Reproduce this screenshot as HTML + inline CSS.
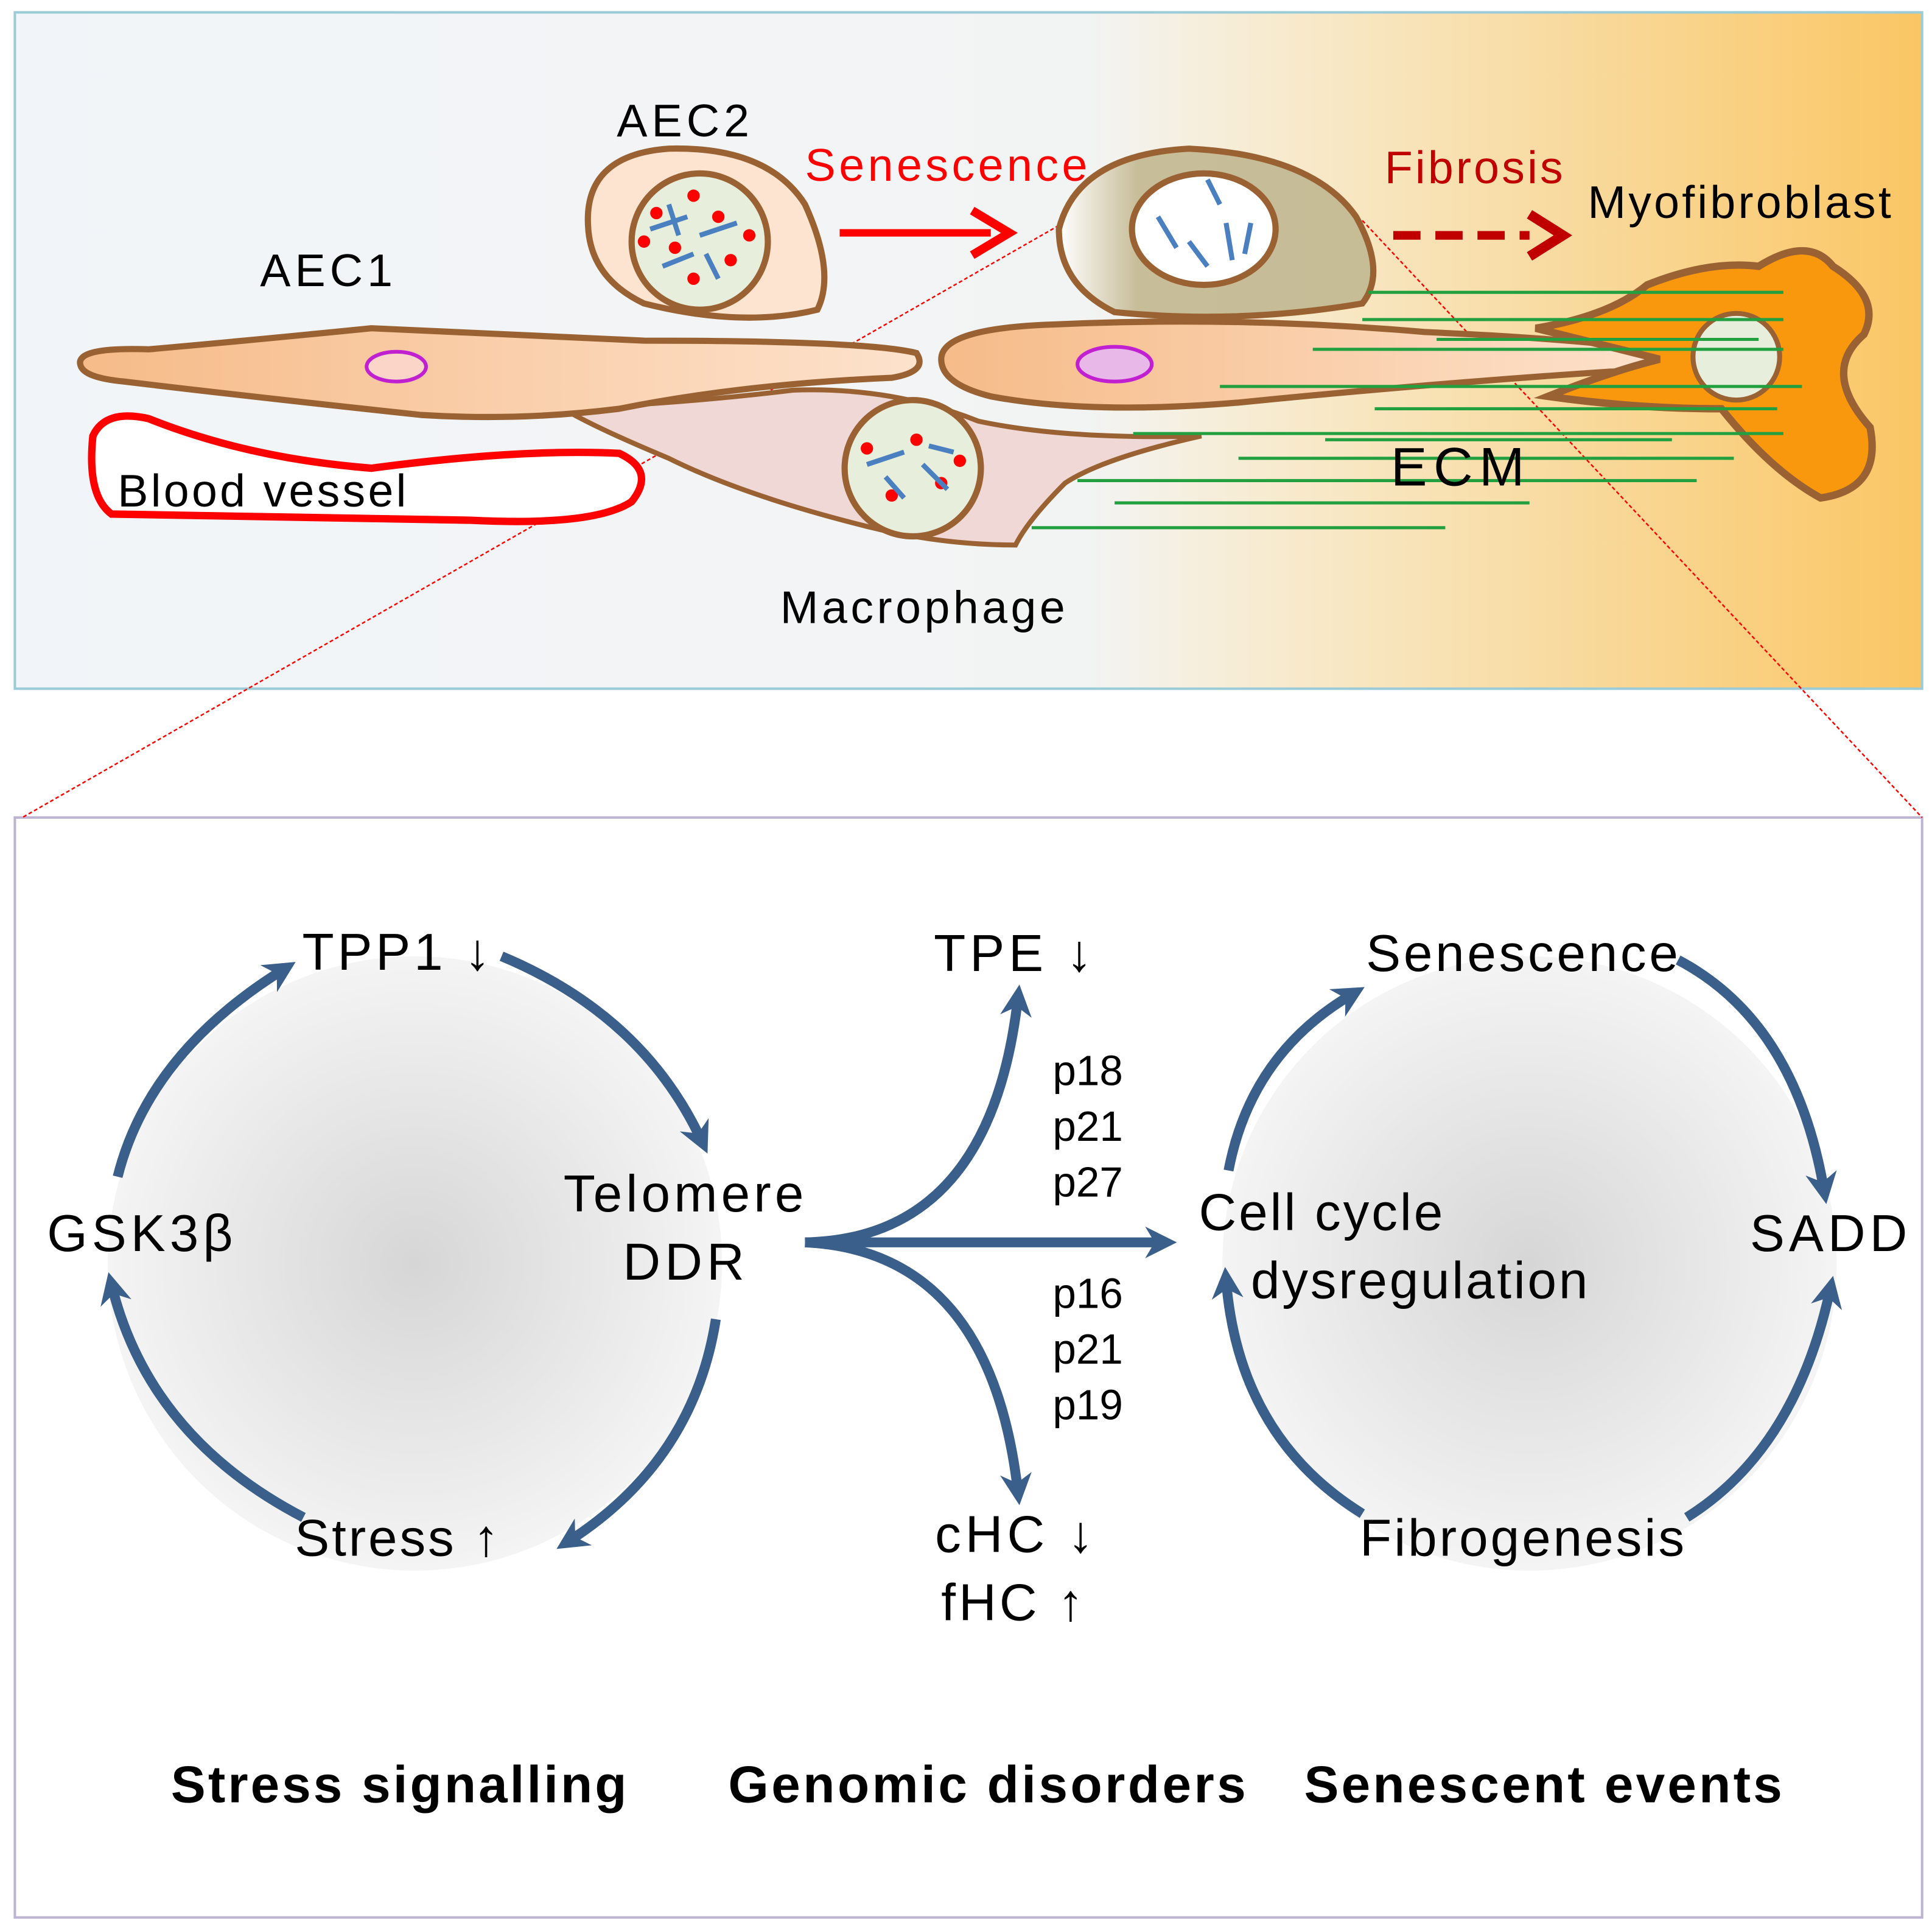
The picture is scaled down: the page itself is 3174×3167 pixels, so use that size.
<!DOCTYPE html>
<html><head><meta charset="utf-8"><style>
html,body{margin:0;padding:0;background:#fff}
svg{display:block}
text{font-family:"Liberation Sans",Arial,sans-serif}
</style></head><body>
<svg width="3174" height="3167" viewBox="0 0 1560 1556.5" preserveAspectRatio="none" xmlns="http://www.w3.org/2000/svg">
<defs>
<linearGradient id="bg" x1="0" x2="1" y1="0" y2="0">
<stop offset="0" stop-color="#f1f5f9"/><stop offset="0.56" stop-color="#f2f4f4"/>
<stop offset="0.65" stop-color="#f7ecd2"/><stop offset="1" stop-color="#fac664"/></linearGradient>
<radialGradient id="cg"><stop offset="0" stop-color="#d6d6d6"/><stop offset="1" stop-color="#f4f4f4"/></radialGradient>
<linearGradient id="sg" x1="0" x2="1"><stop offset="0" stop-color="#fff"/><stop offset="0.25" stop-color="#c7bd98"/><stop offset="1" stop-color="#c6bc96"/></linearGradient>
<linearGradient id="ag" x1="0" x2="1"><stop offset="0" stop-color="#f6bb88"/><stop offset="1" stop-color="#fde2cc"/></linearGradient>
<marker id="ah" viewBox="0 0 10 10" refX="6" refY="5" markerWidth="3.2" markerHeight="3.2" orient="auto"><path d="M0,0 L10,5 L0,10 L3,5z" fill="#3a5f8a"/></marker>
</defs>
<rect x="12" y="10" width="1540" height="546" fill="url(#bg)" stroke="#9ccbd8" stroke-width="2"/>
<rect x="12" y="660" width="1540" height="888" fill="#fff" stroke="#bcb4d2" stroke-width="2"/>
<line x1="855" y1="182" x2="18" y2="660" stroke="red" stroke-width="1.2" stroke-dasharray="3,2"/>
<line x1="1100" y1="178" x2="1552" y2="660" stroke="red" stroke-width="1.2" stroke-dasharray="3,2"/>
<path d="M75,352 Q85,330 120,338 Q200,370 300,378 Q420,362 500,366 Q530,380 510,405 Q480,425 380,420 L90,415 Q70,400 75,352z" fill="#fff" stroke="red" stroke-width="6"/>
<path d="M455,330 Q560,325 640,315 Q720,312 790,340 Q860,355 970,352 Q890,370 860,390 Q830,420 820,440 Q760,440 700,425 Q600,400 540,370 Q480,345 455,330z" fill="#f0d8d6" stroke="#9a6232" stroke-width="4"/>
<circle cx="737" cy="378" r="55" fill="#e8eedc" stroke="#9a6232" stroke-width="5"/>
<path d="M65,295 Q60,280 120,282 Q200,275 300,265 Q420,270 520,275 Q700,275 740,285 Q750,300 720,305 Q600,310 500,330 Q420,340 340,335 Q200,320 100,308 Q68,305 65,295z" fill="url(#ag)" stroke="#9a6232" stroke-width="5"/>
<ellipse cx="320" cy="296" rx="24" ry="12" fill="#fbd6c8" stroke="#c020d0" stroke-width="3"/>
<path d="M475,185 Q470,125 540,120 Q620,118 650,165 Q675,220 660,250 Q600,265 520,245 Q478,225 475,185z" fill="#fde4d0" stroke="#9a6232" stroke-width="5"/>
<circle cx="565" cy="195" r="55" fill="#e8eedc" stroke="#9a6232" stroke-width="5"/>
<g fill="red"><circle cx="530" cy="172" r="5"/><circle cx="560" cy="158" r="5"/><circle cx="580" cy="175" r="5"/><circle cx="545" cy="200" r="5"/><circle cx="590" cy="210" r="5"/><circle cx="560" cy="225" r="5"/><circle cx="520" cy="195" r="5"/><circle cx="605" cy="190" r="5"/><circle cx="700" cy="362" r="5"/><circle cx="740" cy="355" r="5"/><circle cx="760" cy="390" r="5"/><circle cx="720" cy="400" r="5"/><circle cx="775" cy="372" r="5"/></g>
<g stroke="#4a80c0" stroke-width="4" fill="none"><path d="M525,185 L555,175 M540,165 L548,190 M565,190 L595,180 M570,205 L580,225 M535,215 L560,205 M700,375 L730,365 M745,375 L765,395 M715,385 L730,402 M750,360 L770,365"/></g>
<path d="M760,290 Q760,265 850,262 Q1000,255 1150,268 Q1300,275 1345,285 Q1350,300 1300,300 Q1150,310 1000,325 Q880,335 800,320 Q760,310 760,290z" fill="url(#ag)" stroke="#9a6232" stroke-width="5"/>
<ellipse cx="900" cy="294" rx="30" ry="14" fill="#e8b8e8" stroke="#c020d0" stroke-width="3"/>
<path d="M855,185 Q870,125 960,120 Q1060,125 1095,175 Q1120,220 1100,245 Q1000,262 900,252 Q855,230 855,185z" fill="url(#sg)" stroke="#9a6232" stroke-width="5"/>
<ellipse cx="972" cy="185" rx="58" ry="45" fill="#fff" stroke="#9a6232" stroke-width="5"/>
<path d="M935,175 L950,200 M975,145 L985,165 M990,180 L995,210 M1010,180 L1005,205 M960,195 L975,215" stroke="#4a80c0" stroke-width="4"/>
<path d="M1240,265 Q1300,255 1330,230 Q1380,210 1420,215 Q1460,190 1480,215 Q1520,240 1505,270 Q1470,300 1510,345 Q1520,395 1470,402 Q1430,380 1390,330 Q1320,330 1250,320 Q1300,300 1340,290 Q1300,280 1240,265z" fill="#f9980c" stroke="#9a6232" stroke-width="6"/>
<circle cx="1402" cy="288" r="35" fill="#e8eedc" stroke="#9a6232" stroke-width="4"/>
<g stroke="#22a040" stroke-width="2.5">
<line x1="1105" y1="236" x2="1440" y2="236"/><line x1="1100" y1="258" x2="1440" y2="258"/><line x1="1060" y1="282" x2="1440" y2="282"/>
<line x1="1160" y1="274" x2="1420" y2="274"/><line x1="985" y1="312" x2="1455" y2="312"/><line x1="1110" y1="330" x2="1435" y2="330"/>
<line x1="915" y1="350" x2="1440" y2="350"/><line x1="1070" y1="355" x2="1350" y2="355"/><line x1="1000" y1="370" x2="1400" y2="370"/>
<line x1="870" y1="388" x2="1370" y2="388"/><line x1="900" y1="406" x2="1235" y2="406"/><line x1="833" y1="426" x2="1167" y2="426"/></g>
<line x1="678" y1="188" x2="800" y2="188" stroke="red" stroke-width="6"/>
<path d="M785,170 L815,188 L785,206" fill="none" stroke="red" stroke-width="7"/>
<line x1="1125" y1="190" x2="1235" y2="190" stroke="#c00000" stroke-width="7" stroke-dasharray="22,12"/>
<path d="M1235,173 L1262,190 L1235,207" fill="none" stroke="#c00000" stroke-width="8"/>
<g font-size="37" fill="#000">
<text x="498" y="110" textLength="107">AEC2</text><text x="210" y="231" textLength="107">AEC1</text>
<text x="650" y="146" fill="red" textLength="228">Senescence</text><text x="1118" y="148" fill="#c00000" textLength="144">Fibrosis</text>
<text x="1282" y="176" textLength="245">Myofibroblast</text><text x="95" y="409" textLength="233">Blood vessel</text>
<text x="630" y="503" textLength="230">Macrophage</text><text x="1123" y="392" font-size="44" textLength="108">ECM</text></g>
<circle cx="335" cy="1020" r="248" fill="url(#cg)"/>
<circle cx="1235" cy="1020" r="248" fill="url(#cg)"/>
<g stroke="#3a5f8a" stroke-width="8" fill="none" marker-end="url(#ah)">
<path d="M95,950 Q120,850 230,782"/><path d="M405,772 Q520,820 567,922"/>
<path d="M578,1065 Q560,1180 458,1245"/><path d="M245,1225 Q120,1160 90,1037"/>
<path d="M650,1003 Q800,1000 822,805"/><path d="M650,1003 L940,1003"/><path d="M650,1003 Q800,1010 822,1205"/>
<path d="M992,945 Q1010,850 1093,802"/><path d="M1355,775 Q1450,825 1473,962"/>
<path d="M1362,1225 Q1450,1170 1478,1040"/><path d="M1100,1222 Q1000,1160 990,1033"/>
</g>
<g font-size="42" fill="#000">
<text x="244" y="783" textLength="152">TPP1 ↓</text><text x="38" y="1010" textLength="150">GSK3β</text>
<text x="455" y="978" textLength="194">Telomere</text><text x="503" y="1033" textLength="98">DDR</text>
<text x="238" y="1256" textLength="165">Stress ↑</text><text x="754" y="784" textLength="128">TPE ↓</text>
<text x="755" y="1253" textLength="128">cHC ↓</text><text x="760" y="1308" textLength="115">fHC ↑</text>
<text x="1103" y="784" textLength="252">Senescence</text><text x="968" y="993" textLength="197">Cell cycle</text><text x="1010" y="1048" textLength="272">dysregulation</text>
<text x="1413" y="1010" textLength="127">SADD</text><text x="1098" y="1256" textLength="262">Fibrogenesis</text></g>
<g font-size="34" fill="#000"><text x="850" y="876">p18</text><text x="850" y="921">p21</text><text x="850" y="966">p27</text>
<text x="850" y="1056">p16</text><text x="850" y="1101">p21</text><text x="850" y="1146">p19</text></g>
<g font-size="42" font-weight="bold" fill="#000"><text x="138" y="1455" textLength="368">Stress signalling</text>
<text x="588" y="1455" textLength="418">Genomic disorders</text><text x="1053" y="1455" textLength="386">Senescent events</text></g>
</svg>
</body></html>
